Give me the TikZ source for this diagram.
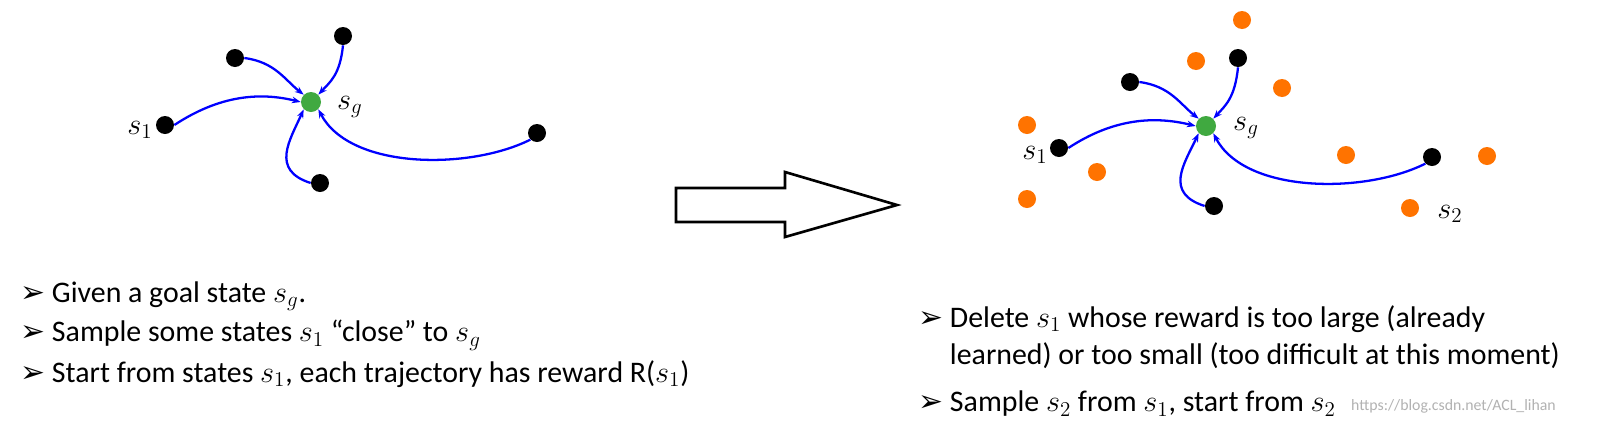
\documentclass[tikz,border=0pt]{standalone}
\usepackage{fontspec}
\setmainfont{Carlito}
\newfontfamily\dejavu{DejaVu Sans}
\usetikzlibrary{arrows.meta}
\newcommand{\bul}{{\dejavu\symbol{"27A2}}\ }
\begin{document}
\begin{tikzpicture}[x=0.02cm,y=-0.02cm,
  blk/.style={circle,fill=black,inner sep=0pt,minimum size=18*0.02cm},
  grn/.style={circle,fill=green!55!black!75,inner sep=0pt,minimum size=20*0.02cm},
  org/.style={circle,fill=orange!90!red,inner sep=0pt,minimum size=18*0.02cm},
  traj/.style={draw=blue,line width=1.3pt,-{Stealth[length=5pt]}},
  lbl/.style={font=\LARGE},
  txt/.style={anchor=west,font=\fontsize{17}{21}\selectfont,align=left}]
\fill[white] (0,0) rectangle (1614,440);
\clip (0,0) rectangle (1614,440);

% left picture
\node[grn] (g) at (311,102) {};
\node[blk] (a1) at (235,58) {};
\node[blk] (a2) at (343,36) {};
\node[blk] (a3) at (165,125) {};
\node[blk] (a4) at (320,183) {};
\node[blk] (a5) at (537,133) {};
\node[lbl] (la) at (140,130) {$s_1$};
\node[lbl] (lg) at (350,107) {$s_g$};
\draw[traj] (a1.east) .. controls (275,62) and (285,80) .. (g.north west);
\draw[traj] (a2.south) .. controls (340,75) and (330,82) .. (g.north east);
\draw[traj] (a3.east) .. controls (220,95) and (260,92) .. (g.west);
\draw[traj] (a4.west) .. controls (270,170) and (290,140) .. (g.south west);
\draw[traj] (a5.south west) .. controls (470,170) and (350,170) .. (g.south east);

% big arrow
\draw[line width=1.5pt] (676,188) -- (785,188) -- (785,172) -- (897,205)
  -- (785,237) -- (785,222) -- (676,222) -- cycle;

% right picture
\node[grn] (h) at (1206,126) {};
\node[blk] (b1) at (1130,82) {};
\node[blk] (b2) at (1238,58) {};
\node[blk] (b3) at (1059,148) {};
\node[blk] (b4) at (1214,206) {};
\node[blk] (b5) at (1432,157) {};
\foreach \x/\y [count=\i] in {1242/20,1196/61,1282/88,1027/125,1097/172,1027/199,1346/155,1487/156,1410/208}
  \node[org] (o\i) at (\x,\y) {};
\node[lbl] (lb) at (1035,155) {$s_1$};
\node[lbl] (lh) at (1246,128) {$s_g$};
\node[lbl] (l2) at (1450,214) {$s_2$};
\draw[traj] (b1.east) .. controls (1170,86) and (1180,104) .. (h.north west);
\draw[traj] (b2.south) .. controls (1235,98) and (1225,106) .. (h.north east);
\draw[traj] (b3.east) .. controls (1114,118) and (1155,116) .. (h.west);
\draw[traj] (b4.west) .. controls (1164,193) and (1184,164) .. (h.south west);
\draw[traj] (b5.south west) .. controls (1365,194) and (1245,194) .. (h.south east);

% text
\node[txt] (t1) at (14,296) {\bul Given a goal state $s_g$.};
\node[txt] (t2) at (14,335) {\bul Sample some states $s_1$ ``close'' to $s_g$};
\node[txt] (t3) at (14,374) {\bul Start from states $s_1$, each trajectory has reward R($s_1$)};
\node[txt] (t4) at (912,337) {\bul Delete $s_1$ whose reward is too large (already\\
  \phantom{\bul}learned) or too small (too difficult at this moment)};
\node[txt] (t5) at (912,404) {\bul Sample $s_2$ from $s_1$, start from $s_2$};
\node[anchor=west,font=\small,text=gray!60] (wm) at (1345,406) {https://blog.csdn.net/ACL\_lihan};
\end{tikzpicture}
\end{document}
